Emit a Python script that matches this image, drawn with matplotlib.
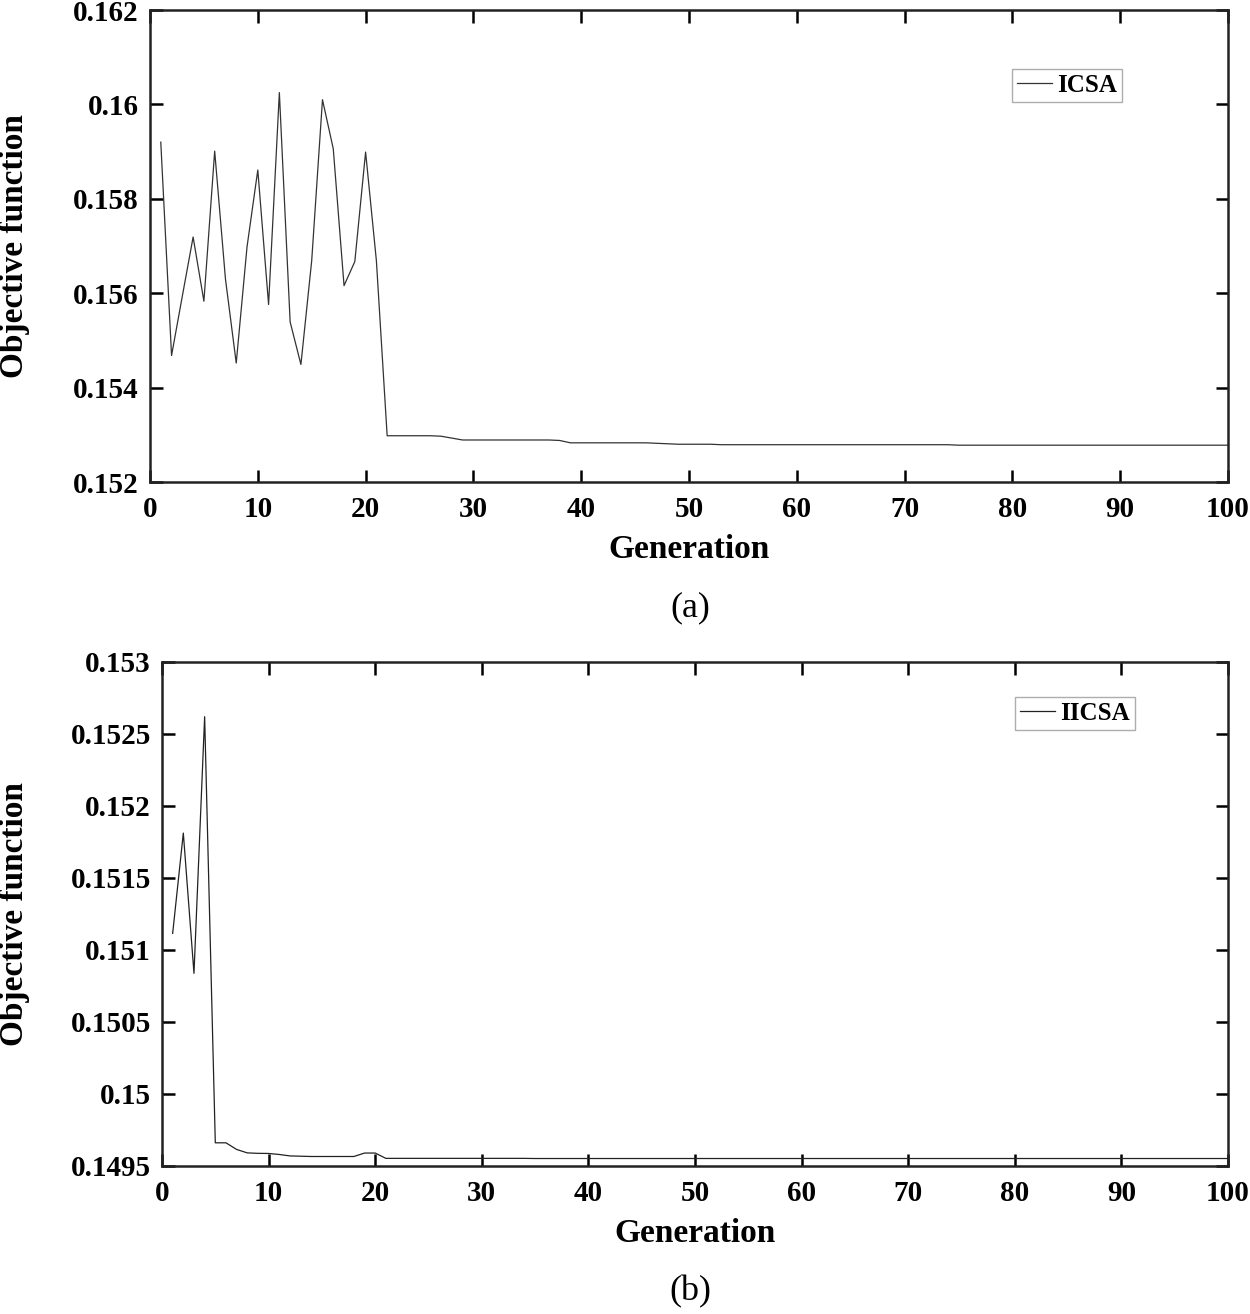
import numpy as np
import matplotlib
matplotlib.use("Agg")
import matplotlib.pyplot as plt

plt.rcParams['font.family'] = ['Liberation Serif', 'DejaVu Serif']
plt.rcParams['font.weight'] = 'bold'

generations = list(range(1, 101))

# ICSA convergence (panel a)
icsa = [0.15920, 0.15468, 0.15594, 0.15719, 0.15583, 0.15901, 0.15630, 0.15452, 0.15698, 0.15861,
        0.15576, 0.16025, 0.15539, 0.15449, 0.15669, 0.16010, 0.15906, 0.15616, 0.15667, 0.15899,
        0.15669, 0.15298, 0.15298, 0.15298, 0.15298, 0.15298, 0.15297, 0.15293, 0.15289, 0.15289,
        0.15289, 0.15289, 0.15289, 0.15289, 0.15289, 0.15289, 0.15289, 0.15288, 0.15283, 0.15283,
        0.15283, 0.15283, 0.15283, 0.15283, 0.15283, 0.15283, 0.15282, 0.15281, 0.15280, 0.15280,
        0.15280, 0.15280, 0.15279, 0.15279, 0.15279, 0.15279, 0.15279, 0.15279, 0.15279, 0.15279,
        0.15279, 0.15279, 0.15279, 0.15279, 0.15279, 0.15279, 0.15279, 0.15279, 0.15279, 0.15279,
        0.15279, 0.15279, 0.15279, 0.15279, 0.15278, 0.15278, 0.15278, 0.15278, 0.15278, 0.15278,
        0.15278, 0.15278, 0.15278, 0.15278, 0.15278, 0.15278, 0.15278, 0.15278, 0.15278, 0.15278,
        0.15278, 0.15278, 0.15278, 0.15278, 0.15278, 0.15278, 0.15278, 0.15278, 0.15278, 0.15278]

# IICSA convergence (panel b)
iicsa = [0.151115, 0.151812, 0.150838, 0.152620, 0.149661, 0.149661, 0.149615, 0.149591, 0.149588, 0.149587,
         0.149580, 0.149570, 0.149568, 0.149566, 0.149566, 0.149566, 0.149566, 0.149566, 0.149590, 0.149590,
         0.149553, 0.149553, 0.149553, 0.149553, 0.149553, 0.149553, 0.149553, 0.149553, 0.149553, 0.149553,
         0.149553, 0.149553, 0.149553, 0.149553, 0.149552, 0.149552, 0.149552, 0.149552, 0.149552, 0.149552,
         0.149552, 0.149552, 0.149552, 0.149552, 0.149552, 0.149552, 0.149552, 0.149552, 0.149552, 0.149552,
         0.149552, 0.149552, 0.149552, 0.149552, 0.149552, 0.149552, 0.149552, 0.149552, 0.149552, 0.149552,
         0.149552, 0.149552, 0.149552, 0.149552, 0.149552, 0.149552, 0.149552, 0.149552, 0.149552, 0.149552,
         0.149552, 0.149552, 0.149552, 0.149552, 0.149552, 0.149552, 0.149552, 0.149552, 0.149552, 0.149552,
         0.149552, 0.149552, 0.149552, 0.149552, 0.149552, 0.149552, 0.149552, 0.149552, 0.149552, 0.149552,
         0.149552, 0.149552, 0.149552, 0.149552, 0.149552, 0.149552, 0.149552, 0.149552, 0.149552, 0.149552]

yticks_a = [0.152, 0.154, 0.156, 0.158, 0.160, 0.162]
yticklabels_a = ['0.152', '0.154', '0.156', '0.158', '0.16', '0.162']
yticks_b = [0.1495, 0.150, 0.1505, 0.151, 0.1515, 0.152, 0.1525, 0.153]
yticklabels_b = ['0.1495', '0.15', '0.1505', '0.151', '0.1515', '0.152', '0.1525', '0.153']
xticks = list(range(0, 101, 10))

W, H = 1250, 1314
fig = plt.figure(figsize=(W / 100, H / 100), dpi=100)


def make_axes(left, right, top, bottom):
    return fig.add_axes([left / W, 1 - bottom / H, (right - left) / W, (bottom - top) / H])


def style(ax, yticks, ylabels, ylim, leg_anchor, ylabel_x):
    ax.set_xlim(0, 100)
    ax.set_ylim(*ylim)
    ax.set_xticks(xticks)
    ax.set_yticks(yticks)
    ax.set_yticklabels(ylabels)
    ax.tick_params(direction='in', length=9, width=1.8, labelsize=21,
                   top=True, right=True)
    ax.tick_params(axis='x', pad=10)
    ax.tick_params(axis='y', pad=8)
    for s in ax.spines.values():
        s.set_linewidth(1.8)
        s.set_color('#222222')
    ax.set_xlabel('Generation', fontsize=24, fontweight='bold', labelpad=8)
    ax.set_ylabel('Objective function', fontsize=24, fontweight='bold')
    ax.yaxis.set_label_coords(ylabel_x, 0.5)
    leg = ax.legend(loc='upper right', bbox_to_anchor=leg_anchor, fontsize=18,
                    frameon=True, fancybox=False, handlelength=1.4,
                    handletextpad=0.2, borderpad=0.2, borderaxespad=0)
    leg.get_frame().set_edgecolor('#999999')
    leg.get_frame().set_linewidth(1.0)
    for t in leg.get_texts():
        t.set_fontweight('bold')


ax1 = make_axes(150, 1228, 10, 482)
ax1.plot(generations, icsa, color='#333333', linewidth=0.9, label='ICSA')
style(ax1, yticks_a, yticklabels_a, (0.152, 0.162), (0.9017, 0.875), (30 - 150) / 1078)

ax2 = make_axes(162, 1228, 662, 1166)
ax2.plot(generations, iicsa, color='#222222', linewidth=0.9, label='IICSA')
style(ax2, yticks_b, yticklabels_b, (0.1495, 0.153), (0.9128, 0.931), (30 - 162) / 1066)

fig.text(690 / W, 1 - 608 / H, '(a)', ha='center', va='center', fontsize=26, fontweight='normal')
fig.text(690 / W, 1 - 1292 / H, '(b)', ha='center', va='center', fontsize=26, fontweight='normal')

fig.savefig('out.png', dpi=100)
